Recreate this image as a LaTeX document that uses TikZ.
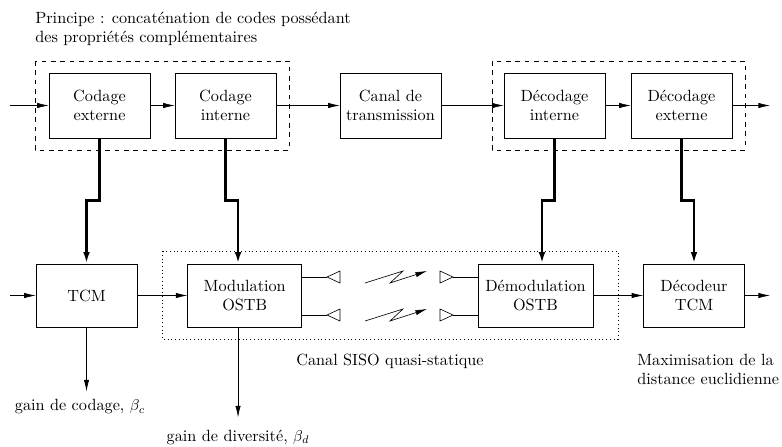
\documentclass[tikz,border=0pt]{standalone}
\usetikzlibrary{arrows.meta}

\tikzset{
  bloc/.style={draw, minimum width=2.27cm, minimum height=1.46cm, align=center, inner sep=0pt},
  fleche/.style={-{Latex[length=2.6mm,width=1.2mm]}},
  epais/.style={line width=1.6pt, -{Latex[length=2.6mm,width=1.5mm]}}
}

\begin{document}
\begin{tikzpicture}[x=0.0225cm, y=-0.0225cm, font=\fontsize{10.4}{12.3}\selectfont]
\useasboundingbox (0,0) rectangle (782,446);

% Texte du haut
\node[align=left, anchor=north west, inner sep=0pt] (principe) at (35,12)
  {Principe : concaténation de codes possédant\\des propriétés complémentaires};

% Chaine du haut
\node[bloc] (ce) at (99.5,105.5) {Codage\\externe};
\node[bloc] (ci) at (225.5,105.5) {Codage\\interne};
\node[bloc] (canal) at (390.5,105.5) {Canal de\\transmission};
\node[bloc] (di) at (554.5,105.5) {Décodage\\interne};
\node[bloc] (de) at (681.5,105.5) {Décodage\\externe};

\coordinate (in1) at (10,105.5);
\coordinate (out1) at (770,105.5);
\draw[fleche] (in1) -- (ce);
\draw[fleche] (ce) -- (ci);
\draw[fleche] (ci) -- (canal);
\draw[fleche] (canal) -- (di);
\draw[fleche] (di) -- (de);
\draw[fleche] (de) -- (out1);

% Cadres en tirets
\draw[dashed] (35,61) rectangle (289,150);
\draw[dashed] (492,61) rectangle (745,150);

% Chaine du bas
\node[bloc, minimum height=1.42cm] (tcm) at (86.5,295.5) {TCM};
\node[bloc, minimum height=1.42cm, minimum width=2.565cm] (mod) at (244.7,295.5) {Modulation\\OSTB};
\node[bloc, minimum height=1.42cm, minimum width=2.59cm] (demod) at (535.5,295.5) {Démodulation\\OSTB};
\node[bloc, minimum height=1.42cm] (dtcm) at (694,295.5) {Décodeur\\TCM};

\coordinate (in2) at (10,295.5);
\coordinate (out2) at (770,295.5);
\draw[fleche] (in2) -- (tcm);
\draw[fleche] (tcm) -- (mod);
\draw[fleche] (demod) -- (dtcm);
\draw[fleche] (dtcm) -- (out2);

% Liaisons epaisses
\draw[epais] (ce.south) -- ++(0,62) -| (tcm.north);
\draw[epais] (ci.south) -- ++(0,62) -| ([xshift=-0.15cm]mod.north);
\draw[epais] (di.south) -- ++(0,62) -| ([xshift=0.146cm]demod.north);
\draw[epais] (de.south) -- ++(0,62) -| (dtcm.north);

% Canal SISO
\draw[dotted] (162,251) rectangle (618,339);
\foreach \y in {277,315} {
  \draw (mod.east |- 0,\y) -- (327,\y);
  \draw (327,\y) -- ++(13,-6) -- ++(0,12) -- cycle;
  \draw (demod.west |- 0,\y) -- (453,\y);
  \draw (453,\y) -- ++(-13,-6) -- ++(0,12) -- cycle;
  \draw[fleche] (365,\y+6) -- (403,\y-6) -- (390,\y+6) -- (427,\y-6);
}
\node (siso) at (390,361) {Canal SISO quasi-statique};

% Gains
\draw[fleche] (tcm.south) -- ++(0,64);
\node (gc) at (80,407) {gain de codage, $\beta_c$};
\draw[fleche] ([xshift=-0.15cm]mod.south) -- ++(0,90);
\node (gd) at (238,437) {gain de diversité, $\beta_d$};

\node[align=left, anchor=north west, inner sep=0pt] (maxi) at (637,354)
  {Maximisation de la\\distance euclidienne};

\end{tikzpicture}
\end{document}
